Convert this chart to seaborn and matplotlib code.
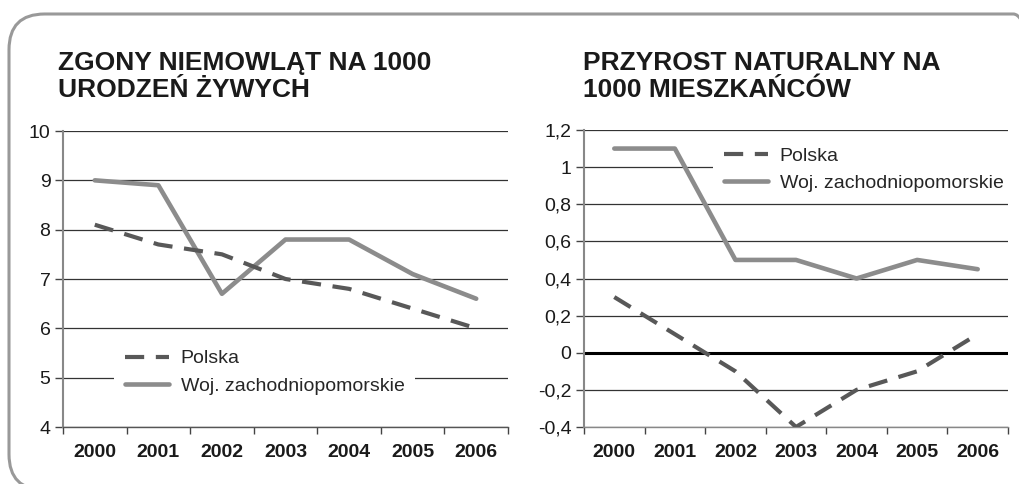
import matplotlib
matplotlib.use("Agg")
import matplotlib.pyplot as plt
import seaborn as sns
import pandas as pd
from matplotlib.patches import FancyBboxPatch
from matplotlib.lines import Line2D

years = ["2000", "2001", "2002", "2003", "2004", "2005", "2006"]
zgony_polska = [8.1, 7.7, 7.5, 7.0, 6.8, 6.4, 6.0]
zgony_woj = [9.0, 8.9, 6.7, 7.8, 7.8, 7.1, 6.6]
przyrost_polska = [0.3, 0.1, -0.1, -0.4, -0.2, -0.1, 0.1]
przyrost_woj = [1.1, 1.1, 0.5, 0.5, 0.4, 0.5, 0.45]
series_names = ["Polska", "Woj. zachodniopomorskie"]
title_left = ["ZGONY NIEMOWLĄT NA 1000", "URODZEŃ ŻYWYCH"]
title_right = ["PRZYROST NATURALNY NA", "1000 MIESZKAŃCÓW"]
yticks_left = [4, 5, 6, 7, 8, 9, 10]
yticks_right = [-0.4, -0.2, 0, 0.2, 0.4, 0.6, 0.8, 1.0, 1.2]

sns.set_theme(style="white")
plt.rcParams["font.family"] = ["Liberation Sans", "DejaVu Sans"]

W, H = 1019, 484
fig = plt.figure(figsize=(W / 100, H / 100), dpi=100)
fig.patch.set_facecolor("white")

# rounded frame
frame = FancyBboxPatch((9 / W, 1 - 490 / H), 1040 / W, 476 / H,
                       boxstyle="round,pad=0,rounding_size=0.035",
                       transform=fig.transFigure, fill=False,
                       edgecolor="#999999", linewidth=2.2, mutation_aspect=W / H)
fig.add_artist(frame)

C_POL = "#585858"
C_WOJ = "#8c8c8c"
DASH = (0, (4.6, 2.8))


def px_axes(x0, x1, ytop, ybot):
    return fig.add_axes([x0 / W, 1 - ybot / H, (x1 - x0) / W, (ybot - ytop) / H])


def draw(ax, pol, woj, yticks, ylab, ylim):
    df = pd.DataFrame({"x": list(range(len(years))) * 2,
                       "value": pol + woj,
                       "series": [series_names[0]] * len(years) + [series_names[1]] * len(years)})
    for y in yticks:
        ax.axhline(y, color="#333333", lw=0.9, zorder=1)
    sns.lineplot(data=df[df.series == series_names[1]], x="x", y="value", ax=ax,
                 color=C_WOJ, lw=3.3, legend=False, zorder=3)
    sns.lineplot(data=df[df.series == series_names[0]], x="x", y="value", ax=ax,
                 color=C_POL, lw=3.0, linestyle=DASH, legend=False, zorder=3)
    ax.set_xlim(-0.5, len(years) - 0.5)
    ax.set_ylim(*ylim)
    ax.set_xticks(range(len(years)))
    ax.set_xticklabels(years, fontsize=14, fontweight="bold", color="#1a1a1a")
    ax.set_xticks([i - 0.5 for i in range(len(years) + 1)], minor=True)
    ax.tick_params(axis="x", which="major", length=0, pad=12)
    ax.tick_params(axis="x", which="minor", length=5, width=1, color="#444444", direction="out", bottom=True)
    ax.set_yticks(yticks)
    ax.set_yticklabels(ylab, fontsize=14, color="#1a1a1a")
    ax.tick_params(axis="y", length=6, width=1, color="#444444", direction="out", left=True, pad=3)
    ax.set_xlabel("")
    ax.set_ylabel("")
    for s in ["top", "right"]:
        ax.spines[s].set_visible(False)
    ax.spines["left"].set_color("#888888")
    ax.spines["left"].set_linewidth(1.5)
    ax.spines["bottom"].set_color("#555555")
    ax.spines["bottom"].set_linewidth(1.0)
    ax.set_facecolor("none")


def add_legend(ax, anchor):
    handles = [Line2D([], [], color=C_POL, lw=3.0, linestyle=DASH),
               Line2D([], [], color=C_WOJ, lw=3.3)]
    leg = ax.legend(handles, series_names, loc="center left", bbox_to_anchor=anchor,
                    borderaxespad=0, frameon=True, fancybox=False, fontsize=14,
                    handlelength=2.25, handletextpad=0.62, labelspacing=0.5, borderpad=0.55)
    leg.get_frame().set_facecolor("white")
    leg.get_frame().set_edgecolor("none")
    leg.get_frame().set_alpha(1)
    leg.set_zorder(5)


ax1 = px_axes(63, 508, 131, 427)
draw(ax1, zgony_polska, zgony_woj, yticks_left, [str(v) for v in yticks_left], (4, 10))
add_legend(ax1, (0.115, 0.185))

ax2 = px_axes(584, 1008, 130, 427)
labs = []
for v in yticks_right:
    s = ("%g" % v).replace(".", ",")
    labs.append(s)
draw(ax2, przyrost_polska, przyrost_woj, yticks_right, labs, (-0.4, 1.2))
ax2.axhline(0, color="black", lw=2.2, zorder=2)
ax2.spines["bottom"].set_color("#888888")
add_legend(ax2, (0.305, 0.866))

for lines, x in [(title_left, 58), (title_right, 583)]:
    for line, yb in zip(lines, [70, 97]):
        fig.text(x / W, 1 - yb / H, line, fontsize=19, fontweight="bold",
                 color="#1a1a1a", va="baseline", ha="left")

fig.savefig("out.png", dpi=100)
